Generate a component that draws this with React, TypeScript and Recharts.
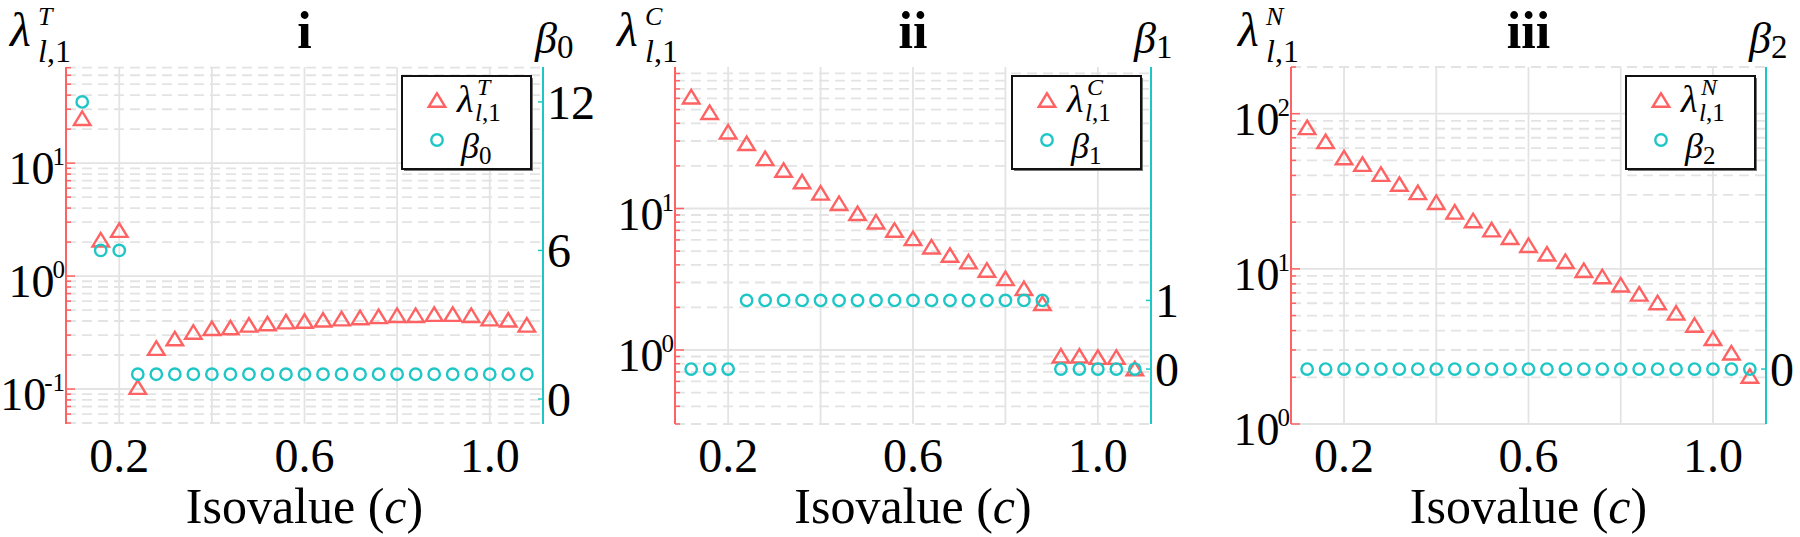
import React from 'react';
import { ComposedChart, Scatter, XAxis, YAxis, ReferenceLine, Legend, Customized } from 'recharts';

const FONT = '"Liberation Serif", "Times New Roman", serif';
const RED = '#FF6262';
const CYAN = '#1EC6C6';
const GRID = '#E3E3E3';

// isovalue c on the x axis (same for all three panels)
const isovalues = [0.12, 0.16, 0.2, 0.24, 0.28, 0.32, 0.36, 0.4, 0.44, 0.48, 0.52, 0.56, 0.6, 0.64, 0.68, 0.72, 0.76, 0.8, 0.84, 0.88, 0.92, 0.96, 1.0, 1.04, 1.08];

// panel i
const lambdaT = [25, 2.1, 2.55, 0.104, 0.23, 0.28, 0.32, 0.345, 0.35, 0.37, 0.38, 0.395, 0.4, 0.41, 0.42, 0.43, 0.44, 0.45, 0.45, 0.46, 0.46, 0.45, 0.42, 0.41, 0.37];
const beta0 = [12, 6, 6, 1, 1, 1, 1, 1, 1, 1, 1, 1, 1, 1, 1, 1, 1, 1, 1, 1, 1, 1, 1, 1, 1];

// panel ii
const lambdaC = [61.7, 47.9, 34.9, 28.9, 22.6, 18.7, 15.5, 12.9, 10.9, 9.25, 8.07, 7.05, 6.15, 5.37, 4.69, 4.21, 3.68, 3.21, 2.73, 2.14, 0.91, 0.91, 0.89, 0.89, 0.74];
const beta1 = [0, 0, 0, 1, 1, 1, 1, 1, 1, 1, 1, 1, 1, 1, 1, 1, 1, 1, 1, 1, 0, 0, 0, 0, 0];

// panel iii
const lambdaN = [81.6, 66.3, 52.2, 47.3, 40.8, 35.2, 31.1, 26.9, 23.3, 20.5, 17.9, 16.0, 14.2, 12.5, 11.2, 9.8, 8.93, 7.9, 6.9, 6.07, 5.2, 4.35, 3.57, 2.88, 2.04];
const beta2 = [0, 0, 0, 0, 0, 0, 0, 0, 0, 0, 0, 0, 0, 0, 0, 0, 0, 0, 0, 0, 0, 0, 0, 0, 0];

// ticks
const xGridTicks = [0.2, 0.4, 0.6, 0.8, 1.0];
const xLabelTicks = [0.2, 0.6, 1.0];
const majorT = [0.1, 1, 10];
const minorT = [0.05, 0.06, 0.07, 0.08, 0.09, 0.2, 0.3, 0.4, 0.5, 0.6, 0.7, 0.8, 0.9, 2, 3, 4, 5, 6, 7, 8, 9, 20, 30, 40, 50, 60, 70];
const majorC = [1, 10];
const minorC = [0.3, 0.4, 0.5, 0.6, 0.7, 0.8, 0.9, 2, 3, 4, 5, 6, 7, 8, 9, 20, 30, 40, 50, 60, 70, 80, 90];
const majorN = [1, 10, 100];
const minorN = [2, 3, 4, 5, 6, 7, 8, 9, 20, 30, 40, 50, 60, 70, 80, 90, 200];
const beta0Ticks = [0, 6, 12];
const beta1Ticks = [0, 1];
const beta2Ticks = [0];

const Triangle = (props: any) => {
  const { cx, cy } = props;
  if (cx == null || cy == null) return null;
  const w = 16.5;
  const h = 13.5;
  return (
    <polygon
      points={`${cx},${cy - h / 2} ${cx - w / 2},${cy + h / 2} ${cx + w / 2},${cy + h / 2}`}
      fill="none"
      stroke={RED}
      strokeWidth={2.4}
    />
  );
};

const Ring = (props: any) => {
  const { cx, cy } = props;
  if (cx == null || cy == null) return null;
  return <circle cx={cx} cy={cy} r={5.7} fill="none" stroke={CYAN} strokeWidth={2.4} />;
};

const XTick = (props: any) => {
  const { x, y, payload } = props;
  if (!xLabelTicks.includes(payload.value)) return <g />;
  return (
    <text x={x} y={y + 48} textAnchor="middle" fontSize={48} fontFamily={FONT} fill="#000">
      {payload.value.toFixed(1)}
    </text>
  );
};

const makeLeftTick = (majors: number[]) => (props: any) => {
  const { x, y, payload } = props;
  const axisX = x + 1;
  const isMajor = majors.includes(payload.value);
  const exp = Math.round(Math.log10(payload.value));
  return (
    <g>
      <line x1={axisX} x2={axisX + (isMajor ? 9 : 5)} y1={y} y2={y} stroke={RED} strokeWidth={1.5} />
      {isMajor && (
        <text x={x} y={y + 21} textAnchor="end" fontSize={46} fontFamily={FONT} fill="#000">
          10<tspan dy={-19} dx={-2} fontSize={25}>{exp < 0 ? `-${-exp}` : exp}</tspan>
        </text>
      )}
    </g>
  );
};

const RightTick = (props: any) => {
  const { x, y, payload } = props;
  const axisX = x - 4;
  return (
    <g>
      <line x1={axisX - 5} x2={axisX} y1={y} y2={y} stroke={CYAN} strokeWidth={1.5} />
      <text x={x} y={y + 17} textAnchor="start" fontSize={48} fontFamily={FONT} fill="#000">
        {payload.value}
      </text>
    </g>
  );
};

const LegendBox = ({ sup, sub }: { sup: string; sub: string }) => {
  const w = 131;
  const h = 95;
  return (
    <svg width={w + 3} height={h + 3} style={{ display: 'block' }}>
      <rect x={3} y={3} width={w - 2} height={h - 2} fill="#777" />
      <rect x={1} y={1} width={w - 2} height={h - 2} fill="#fff" stroke="#111" strokeWidth={2} />
      <Triangle cx={36} cy={25} />
      <Ring cx={36} cy={65} />
      <text x={56} y={37} fontFamily={FONT} fontSize={38} fill="#000">
        <tspan fontStyle="italic">λ</tspan>
        <tspan x={76} y={20} fontSize={24} fontStyle="italic">{sup}</tspan>
        <tspan x={74} y={46} fontSize={25}>
          <tspan fontStyle="italic">l</tspan>,1
        </tspan>
      </text>
      <text x={60} y={83} fontFamily={FONT} fontSize={36} fill="#000">
        <tspan fontStyle="italic">β</tspan>
        <tspan dy={6} fontSize={25}>{sub}</tspan>
      </text>
    </svg>
  );
};

const PanelText = (props: any) => {
  const { title, sup, sub, lamX, betaX, plotLeft, plotRight } = props;
  const cx = (plotLeft + plotRight) / 2;
  return (
    <g fontFamily={FONT} fill="#000">
      <text x={cx} y={48} textAnchor="middle" fontSize={52} fontWeight="bold">{title}</text>
      <text x={lamX} y={46} fontSize={48}>
        <tspan fontStyle="italic">λ</tspan>
        <tspan x={lamX + 28} y={25} fontSize={26} fontStyle="italic">{sup}</tspan>
        <tspan x={lamX + 28} y={62} fontSize={32}>
          <tspan fontStyle="italic">l</tspan>,1
        </tspan>
      </text>
      <text x={betaX} y={53} fontSize={44}>
        <tspan fontStyle="italic">β</tspan>
        <tspan dy={5} fontSize={33}>{sub}</tspan>
      </text>
      <text x={cx} y={523} textAnchor="middle" fontSize={50}>
        Isovalue (<tspan fontStyle="italic">c</tspan>)
      </text>
    </g>
  );
};

interface PanelProps {
  offset: number;
  lam: number[];
  beta: number[];
  majors: number[];
  minors: number[];
  lamDomain: [number, number];
  betaDomain: [number, number];
  betaTicks: number[];
  leftW: number;
  rightW: number;
  title: string;
  sup: string;
  sub: string;
  lamX: number;
  betaX: number;
  legendX: number;
}

const Panel: React.FC<PanelProps> = (p) => {
  const data = isovalues.map((c, i) => ({ c, lam: p.lam[i], beta: p.beta[i] }));
  const plotLeft = p.leftW;
  const plotRight = 600 - p.rightW;
  const allTicks = [...p.minors, ...p.majors].sort((a, b) => a - b);
  return (
    <div style={{ position: 'absolute', left: p.offset, top: 0 }}>
      <ComposedChart width={600} height={537} data={data} margin={{ top: 67, right: 0, bottom: 0, left: 0 }}>
        <XAxis
          dataKey="c"
          type="number"
          domain={[0.085, 1.115]}
          allowDataOverflow
          ticks={xGridTicks}
          interval={0}
          tick={XTick}
          tickSize={0}
          tickMargin={0}
          axisLine={false}
          tickLine={false}
          height={113}
        />
        <YAxis
          yAxisId="left"
          type="number"
          scale="log"
          domain={p.lamDomain}
          allowDataOverflow
          ticks={allTicks}
          interval={0}
          tick={makeLeftTick(p.majors)}
          tickSize={0}
          tickMargin={1}
          tickLine={false}
          axisLine={{ stroke: RED, strokeWidth: 2 }}
          width={p.leftW}
        />
        <YAxis
          yAxisId="right"
          orientation="right"
          type="number"
          domain={p.betaDomain}
          allowDataOverflow
          ticks={p.betaTicks}
          interval={0}
          tick={RightTick}
          tickSize={0}
          tickMargin={4}
          tickLine={false}
          axisLine={{ stroke: CYAN, strokeWidth: 2 }}
          width={p.rightW}
        />
        {p.minors.map((v) => (
          <ReferenceLine key={`mn${v}`} yAxisId="left" y={v} stroke={GRID} strokeWidth={1.8} strokeDasharray="10 6" />
        ))}
        {xGridTicks.map((v) => (
          <ReferenceLine key={`x${v}`} yAxisId="left" x={v} stroke={GRID} strokeWidth={1.8} />
        ))}
        {p.majors.map((v) => (
          <ReferenceLine key={`mj${v}`} yAxisId="left" y={v} stroke={GRID} strokeWidth={1.8} />
        ))}
        <Scatter yAxisId="left" dataKey="lam" shape={<Triangle />} isAnimationActive={false} />
        <Scatter yAxisId="right" dataKey="beta" shape={<Ring />} isAnimationActive={false} />
        <Legend
          layout="vertical"
          align="center"
          verticalAlign="middle"
          wrapperStyle={{ left: p.legendX, top: 75, width: 134, height: 98 }}
          content={() => <LegendBox sup={p.sup} sub={p.sub} />}
        />
        <Customized
          component={
            <PanelText
              title={p.title}
              sup={p.sup}
              sub={p.sub}
              lamX={p.lamX}
              betaX={p.betaX}
              plotLeft={plotLeft}
              plotRight={plotRight}
            />
          }
        />
      </ComposedChart>
    </div>
  );
};

const App: React.FC = () => {
  return (
    <div style={{ position: 'absolute', left: 0, top: 0, width: 1800, height: 537, background: '#fff', overflow: 'hidden' }}>
      <Panel
        offset={0}
        lam={lambdaT}
        beta={beta0}
        majors={majorT}
        minors={minorT}
        lamDomain={[0.049, 71]}
        betaDomain={[-1.01, 13.41]}
        betaTicks={beta0Ticks}
        leftW={66}
        rightW={57}
        title="i"
        sup="T"
        sub="0"
        lamX={10}
        betaX={535}
        legendX={401}
      />
      <Panel
        offset={600}
        lam={lambdaC}
        beta={beta1}
        majors={majorC}
        minors={minorC}
        lamDomain={[0.3, 100]}
        betaDomain={[-0.8, 4.4]}
        betaTicks={beta1Ticks}
        leftW={75}
        rightW={49}
        title="ii"
        sup="C"
        sub="1"
        lamX={17}
        betaX={534}
        legendX={411}
      />
      <Panel
        offset={1200}
        lam={lambdaN}
        beta={beta2}
        majors={majorN}
        minors={minorN}
        lamDomain={[1, 200]}
        betaDomain={[-0.8, 4.4]}
        betaTicks={beta2Ticks}
        leftW={91}
        rightW={34}
        title="iii"
        sup="N"
        sub="2"
        lamX={38}
        betaX={549}
        legendX={425}
      />
    </div>
  );
};

export default App;
